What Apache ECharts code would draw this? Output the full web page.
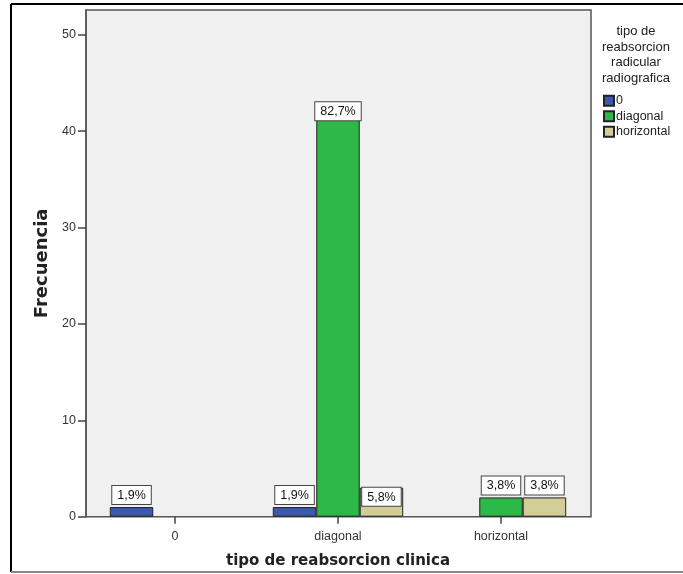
<!DOCTYPE html>
<html>
<head>
<meta charset="utf-8">
<script src="https://cdn.jsdelivr.net/npm/echarts@6/dist/echarts.min.js"></script>
<style>
html,body{margin:0;padding:0;background:#fff;}
#chart{width:683px;height:574px;}
</style>
</head>
<body>
<div id="chart"></div>
<script>
// ---- data ----
const categories = ['0', 'diagonal', 'horizontal'];
const seriesNames = ['0', 'diagonal', 'horizontal'];
const values0 = [1, 1, 0];
const valuesDiagonal = [0, 43, 2];
const valuesHorizontal = [0, 3, 2];
const yTicks = [0, 10, 20, 30, 40, 50];
const yMax = 52.56;
const xTitle = 'tipo de reabsorcion clinica';
const yTitle = 'Frecuencia';
const legendTitle = 'tipo de\nreabsorcion\nradicular\nradiografica';

const allValues = [values0, valuesDiagonal, valuesHorizontal];
const colors = ['#3e58ac', '#2eb848', '#d3ce97'];
const total = allValues.flat().reduce((a, b) => a + b, 0);

const FONT = 'Liberation Sans, Arial, sans-serif';

function pct(v) {
  return (v / total * 100).toFixed(1).replace('.', ',') + '%';
}

const series = allValues.map((vals, si) => ({
  name: seriesNames[si],
  type: 'bar',
  barGap: 0,
  barCategoryGap: '20%',
  itemStyle: { color: colors[si], borderColor: '#222', borderWidth: 1 },
  data: vals.map(v => ({
    value: v,
    itemStyle: { borderWidth: v > 0 ? 1 : 0 },
    label: {
      show: v > 0,
      position: v >= 3 ? 'insideTop' : 'top',
      distance: v >= 3 ? 0 : 3
    }
  })),
  label: {
    formatter: p => pct(p.value),
    color: '#111',
    fontFamily: FONT,
    fontSize: 12.5,
    backgroundColor: '#fff',
    borderColor: '#444',
    borderWidth: 1,
    padding: [3, 5, 2, 5]
  }
}));

const chart = echarts.init(document.getElementById('chart'), null, { renderer: 'canvas' });
chart.setOption({
  backgroundColor: '#fff',
  animation: false,
  grid: { left: 93.5, right: 100.5, top: 10, bottom: 57.3, containLabel: false },
  graphic: [
    { type: 'rect', z: 0, shape: { x: 86, y: 10, width: 505, height: 506.7 },
      style: { fill: '#f0f0f0', stroke: '#555', lineWidth: 1.5 } },
    { type: 'line', z: 0, shape: { x1: 11, y1: 4, x2: 683, y2: 4 }, style: { stroke: '#000', lineWidth: 2 } },
    { type: 'line', z: 0, shape: { x1: 11, y1: 4, x2: 11, y2: 572 }, style: { stroke: '#000', lineWidth: 2 } },
    { type: 'line', z: 0, shape: { x1: 11, y1: 572, x2: 683, y2: 572 }, style: { stroke: '#888', lineWidth: 2 } },
    { type: 'text', z: 5, x: 636, y: 24,
      style: { text: legendTitle, textAlign: 'center', fill: '#222', fontFamily: FONT, fontSize: 13, lineHeight: 15.5 } }
  ],
  legend: {
    orient: 'vertical',
    left: 603,
    top: 93,
    padding: 0,
    itemWidth: 10,
    itemHeight: 10,
    itemGap: 0,
    icon: 'rect',
    data: seriesNames,
    textStyle: { color: '#222', fontFamily: FONT, fontSize: 12.5, lineHeight: 15.5, padding: [0, 0, 0, -3] }
  },
  xAxis: {
    type: 'category',
    data: categories,
    name: xTitle,
    nameLocation: 'middle',
    nameGap: 37,
    nameTextStyle: { color: '#222', fontFamily: 'DejaVu Sans, sans-serif', fontWeight: 'bold', fontSize: 15 },
    axisLine: { show: false },
    axisTick: { show: true, alignWithLabel: true, length: 7, lineStyle: { color: '#444', width: 1.5 } },
    axisLabel: { color: '#333', fontFamily: FONT, fontSize: 12.5, margin: 13 },
    splitLine: { show: false }
  },
  yAxis: {
    type: 'value',
    min: 0,
    max: yMax,
    interval: 10,
    offset: 7.5,
    name: yTitle,
    nameLocation: 'middle',
    nameRotate: 90,
    nameGap: 35,
    nameTextStyle: { color: '#222', fontFamily: 'DejaVu Sans, sans-serif', fontWeight: 'bold', fontSize: 18 },
    axisLine: { show: true, lineStyle: { color: '#555', width: 1.5 } },
    axisTick: { show: true, length: 8, lineStyle: { color: '#444', width: 1.5 }, customValues: yTicks },
    axisLabel: { color: '#333', fontFamily: FONT, fontSize: 12.5, margin: 10, customValues: yTicks },
    splitLine: { show: false }
  },
  series: series
});
</script>
</body>
</html>
